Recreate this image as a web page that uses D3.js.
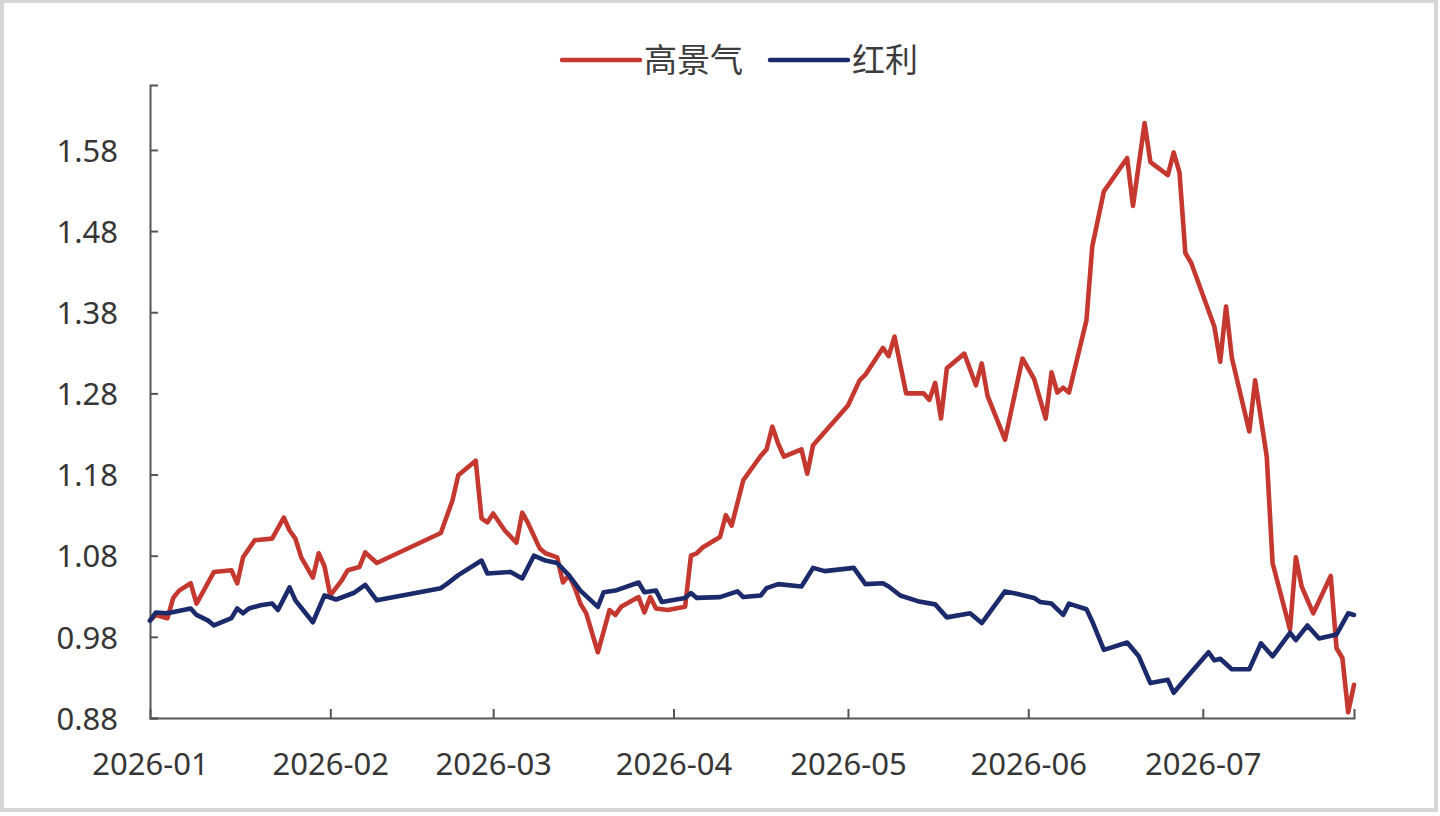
<!DOCTYPE html>
<html>
<head>
<meta charset="utf-8">
<script src="https://cdn.jsdelivr.net/npm/d3@7"></script>
<style>
  html, body { margin: 0; padding: 0; background: #fff; }
  svg { display: block; }
  .axis text { font-family: 'Noto Sans', 'Open Sans', sans-serif; fill: #363636; }
  .legend text { font-family: 'Noto Sans CJK SC', sans-serif; fill: #3c3c3c; }
</style>
</head>
<body>
<div id="chart"></div>
<script>
// series names as shown in the legend
const seriesNames = ['高景气', '红利'];
const seriesColors = ['#c4382f', '#1b2a6b'];

// 高景气
const gaoDates = [
  '2026-01-01', '2026-01-02', '2026-01-04', '2026-01-05', '2026-01-06', '2026-01-08',
  '2026-01-09', '2026-01-12', '2026-01-15', '2026-01-16', '2026-01-17', '2026-01-19',
  '2026-01-22', '2026-01-24', '2026-01-25', '2026-01-26', '2026-01-27', '2026-01-29',
  '2026-01-30', '2026-01-31', '2026-02-01', '2026-02-03', '2026-02-04', '2026-02-06',
  '2026-02-07', '2026-02-09', '2026-02-20', '2026-02-22', '2026-02-23', '2026-02-26',
  '2026-02-27', '2026-02-28', '2026-03-01', '2026-03-03', '2026-03-05', '2026-03-06',
  '2026-03-07', '2026-03-09', '2026-03-10', '2026-03-12', '2026-03-13', '2026-03-14',
  '2026-03-15', '2026-03-16', '2026-03-17', '2026-03-19', '2026-03-21', '2026-03-22',
  '2026-03-23', '2026-03-26', '2026-03-27', '2026-03-28', '2026-03-29', '2026-03-31',
  '2026-04-03', '2026-04-04', '2026-04-05', '2026-04-06', '2026-04-09', '2026-04-10',
  '2026-04-11', '2026-04-13', '2026-04-16', '2026-04-17', '2026-04-18', '2026-04-19',
  '2026-04-20', '2026-04-23', '2026-04-24', '2026-04-25', '2026-05-01', '2026-05-03',
  '2026-05-04', '2026-05-07', '2026-05-08', '2026-05-09', '2026-05-11', '2026-05-14',
  '2026-05-15', '2026-05-16', '2026-05-17', '2026-05-18', '2026-05-21', '2026-05-23',
  '2026-05-24', '2026-05-25', '2026-05-28', '2026-05-31', '2026-06-02', '2026-06-04',
  '2026-06-05', '2026-06-06', '2026-06-07', '2026-06-08', '2026-06-11', '2026-06-12',
  '2026-06-14', '2026-06-15', '2026-06-18', '2026-06-19', '2026-06-21', '2026-06-22',
  '2026-06-25', '2026-06-26', '2026-06-27', '2026-06-28', '2026-06-29', '2026-07-03',
  '2026-07-04', '2026-07-05', '2026-07-06', '2026-07-09', '2026-07-10', '2026-07-12',
  '2026-07-13', '2026-07-16', '2026-07-17', '2026-07-18', '2026-07-20', '2026-07-23',
  '2026-07-24', '2026-07-25', '2026-07-26', '2026-07-27'
];
const gaoValues = [
  1.000, 1.007, 1.003, 1.028, 1.037, 1.046,
  1.021, 1.060, 1.062, 1.046, 1.078, 1.099,
  1.101, 1.127, 1.111, 1.101, 1.078, 1.053,
  1.083, 1.067, 1.031, 1.050, 1.062, 1.066,
  1.084, 1.071, 1.108, 1.148, 1.179, 1.197,
  1.126, 1.121, 1.132, 1.111, 1.096, 1.133,
  1.120, 1.089, 1.083, 1.078, 1.047, 1.056,
  1.041, 1.021, 1.009, 0.961, 1.013, 1.007,
  1.017, 1.029, 1.010, 1.029, 1.015, 1.013,
  1.017, 1.080, 1.083, 1.090, 1.103, 1.130,
  1.117, 1.173, 1.203, 1.211, 1.239, 1.218,
  1.202, 1.211, 1.181, 1.216, 1.265, 1.296,
  1.303, 1.336, 1.326, 1.350, 1.280, 1.280,
  1.272, 1.293, 1.249, 1.311, 1.329, 1.290,
  1.317, 1.277, 1.223, 1.323, 1.298, 1.249,
  1.306, 1.281, 1.287, 1.281, 1.370, 1.461,
  1.529, 1.539, 1.570, 1.511, 1.613, 1.565,
  1.549, 1.577, 1.552, 1.453, 1.441, 1.362,
  1.319, 1.387, 1.324, 1.233, 1.296, 1.202,
  1.071, 0.989, 1.078, 1.042, 1.009, 1.055,
  0.966, 0.954, 0.887, 0.921
];

// 红利
const hongDates = [
  '2026-01-01', '2026-01-02', '2026-01-04', '2026-01-08', '2026-01-09', '2026-01-11',
  '2026-01-12', '2026-01-15', '2026-01-16', '2026-01-17', '2026-01-18', '2026-01-20',
  '2026-01-22', '2026-01-23', '2026-01-25', '2026-01-26', '2026-01-29', '2026-01-31',
  '2026-02-02', '2026-02-05', '2026-02-07', '2026-02-09', '2026-02-20', '2026-02-21',
  '2026-02-23', '2026-02-27', '2026-02-28', '2026-03-04', '2026-03-06', '2026-03-08',
  '2026-03-10', '2026-03-12', '2026-03-14', '2026-03-16', '2026-03-19', '2026-03-20',
  '2026-03-22', '2026-03-26', '2026-03-27', '2026-03-29', '2026-03-30', '2026-04-03',
  '2026-04-04', '2026-04-05', '2026-04-09', '2026-04-12', '2026-04-13', '2026-04-16',
  '2026-04-17', '2026-04-19', '2026-04-23', '2026-04-25', '2026-04-27', '2026-05-02',
  '2026-05-04', '2026-05-07', '2026-05-08', '2026-05-10', '2026-05-13', '2026-05-16',
  '2026-05-18', '2026-05-22', '2026-05-24', '2026-05-28', '2026-05-30', '2026-06-02',
  '2026-06-03', '2026-06-05', '2026-06-07', '2026-06-08', '2026-06-11', '2026-06-12',
  '2026-06-14', '2026-06-18', '2026-06-20', '2026-06-22', '2026-06-25', '2026-06-26',
  '2026-06-28', '2026-07-02', '2026-07-03', '2026-07-04', '2026-07-06', '2026-07-09',
  '2026-07-11', '2026-07-13', '2026-07-16', '2026-07-17', '2026-07-19', '2026-07-21',
  '2026-07-24', '2026-07-26', '2026-07-27'
];
const hongValues = [
  1.000, 1.010, 1.009, 1.015, 1.007, 1.000,
  0.994, 1.003, 1.015, 1.009, 1.015, 1.019,
  1.021, 1.013, 1.041, 1.025, 0.998, 1.031,
  1.026, 1.034, 1.044, 1.025, 1.040, 1.045,
  1.056, 1.074, 1.058, 1.060, 1.052, 1.080,
  1.074, 1.071, 1.056, 1.037, 1.017, 1.035,
  1.037, 1.047, 1.035, 1.037, 1.023, 1.028,
  1.034, 1.028, 1.029, 1.036, 1.029, 1.031,
  1.040, 1.045, 1.042, 1.065, 1.061, 1.065,
  1.045, 1.046, 1.042, 1.031, 1.024, 1.020,
  1.004, 1.009, 0.997, 1.036, 1.033, 1.028,
  1.023, 1.021, 1.007, 1.021, 1.014, 0.999,
  0.964, 0.973, 0.956, 0.923, 0.927, 0.911,
  0.928, 0.961, 0.951, 0.953, 0.940, 0.940,
  0.972, 0.956, 0.985, 0.976, 0.994, 0.978,
  0.983, 1.009, 1.007
];

// axis ticks
const yTicks = [0.88, 0.98, 1.08, 1.18, 1.28, 1.38, 1.48, 1.58];
const xTickDates = ['2026-01-01', '2026-02-01', '2026-03-01', '2026-04-01', '2026-05-01', '2026-06-01', '2026-07-01'];
const xDomain = ['2026-01-01', '2026-07-27'];
const yDomain = [0.88, 1.66];

const width = 1440;
const height = 816;
const margin = { top: 85, right: 86, bottom: 98, left: 150 };

const parse = d3.timeParse('%Y-%m-%d');
const toSeries = (dates, values) => dates.map((d, i) => ({ date: parse(d), value: values[i] }));
const series = [toSeries(gaoDates, gaoValues), toSeries(hongDates, hongValues)];

const svg = d3.select('#chart')
  .append('svg')
  .attr('width', width)
  .attr('height', height);

// photo frame
svg.append('rect')
  .attr('x', 2).attr('y', 1)
  .attr('width', width - 6).attr('height', height - 7)
  .attr('fill', '#fff')
  .attr('stroke', '#d6d6d6')
  .attr('stroke-width', 4);

const x = d3.scaleTime()
  .domain(xDomain.map(parse))
  .range([margin.left, width - margin.right]);

const y = d3.scaleLinear()
  .domain(yDomain)
  .range([height - margin.bottom, margin.top]);

// y axis
const gy = svg.append('g')
  .attr('class', 'axis')
  .attr('transform', `translate(${margin.left},0)`)
  .call(d3.axisRight(y).tickValues(yTicks).tickSize(8).tickFormat(d3.format('.2f')));
gy.select('.domain').attr('stroke', '#555').attr('stroke-width', 2);
gy.selectAll('.tick line').attr('stroke', '#555').attr('stroke-width', 2);
gy.selectAll('.tick text')
  .attr('x', -32)
  .attr('dy', '0.36em')
  .attr('text-anchor', 'end')
  .style('font-size', '31px');

// x axis
const gx = svg.append('g')
  .attr('class', 'axis')
  .attr('transform', `translate(0,${height - margin.bottom})`)
  .call(d3.axisTop(x).tickValues(xTickDates.map(parse)).tickSize(9).tickFormat(d3.timeFormat('%Y-%m')));
gx.select('.domain').attr('stroke', '#555').attr('stroke-width', 2);
gx.selectAll('.tick line').attr('stroke', '#555').attr('stroke-width', 2)
  .attr('display', (d, i) => (i === 0 ? 'none' : null));
gx.selectAll('.tick text')
  .attr('y', 57)
  .attr('dy', 0)
  .style('font-size', '31px');

// lines
const line = d3.line()
  .x(d => x(d.date))
  .y(d => y(d.value));

svg.append('g')
  .selectAll('path')
  .data(series)
  .join('path')
  .attr('d', line)
  .attr('fill', 'none')
  .attr('stroke', (d, i) => seriesColors[i])
  .attr('stroke-width', 4.6)
  .attr('stroke-linejoin', 'round')
  .attr('stroke-linecap', 'round');

// legend
const legendX = [562, 770];
const legend = svg.append('g')
  .attr('class', 'legend')
  .selectAll('g')
  .data(seriesNames)
  .join('g')
  .attr('transform', (d, i) => `translate(${legendX[i]},60)`);

legend.append('line')
  .attr('x1', 0).attr('x2', 78)
  .attr('stroke', (d, i) => seriesColors[i])
  .attr('stroke-width', 4.5)
  .attr('stroke-linecap', 'round');

legend.append('text')
  .attr('x', 82)
  .attr('dy', '0.36em')
  .style('font-size', '33px')
  .text(d => d);
</script>
</body>
</html>
